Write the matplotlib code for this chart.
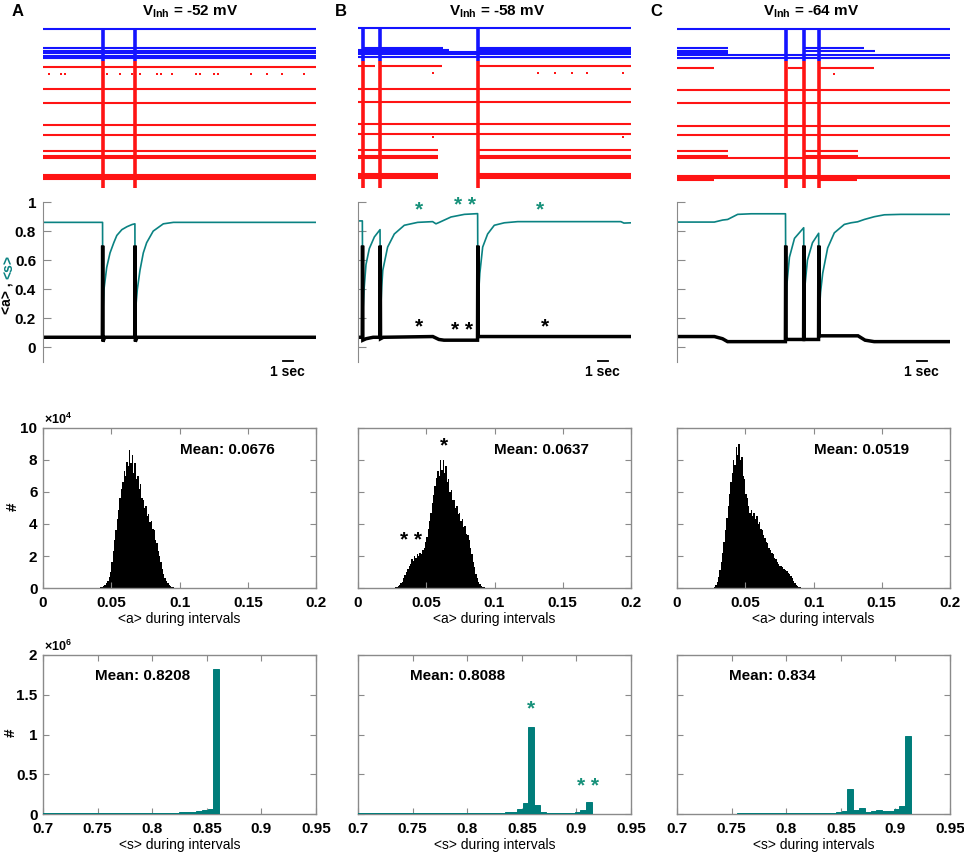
import numpy as np
import matplotlib
matplotlib.use("Agg")
import matplotlib.pyplot as plt

plt.rcParams['font.family'] = 'Liberation Sans'
plt.rcParams['font.weight'] = 'bold'
plt.rcParams['font.size'] = 11
plt.rcParams['mathtext.fontset'] = 'custom'
plt.rcParams['mathtext.rm'] = 'Liberation Sans'
plt.rcParams['mathtext.bf'] = 'Liberation Sans:bold'

RED = '#ff1414'
BLUE = '#1414ff'
TEAL = '#0a8282'
STAR = '#17917a'
BARC = '#007d7a'
GRAY = '#8a8a8a'

T_MAX = 27
letters = ['A', 'B', 'C']
v_inh = ['-52 mV', '-58 mV', '-64 mV']
means_a = ['0.0676', '0.0637', '0.0519']
means_s = ['0.8208', '0.8088', '0.834']

# ---- raster (neuron id, active periods in sec) ----
FULL = [(0, T_MAX)]
inh_span = (3, 36)
exc_span = (36, 163)
burst_times = [[5.9, 9.1], [0.45, 2.2, 11.85], [10.75, 12.55, 14.03]]

inh_A = {4: FULL, 23: FULL, 26: FULL, 28: FULL, 31: FULL, 33: FULL}
exc_A = {42: FULL, 64: FULL, 78: FULL, 100: FULL, 110: FULL, 126: FULL,
         131: FULL, 133: FULL, 150: FULL, 152: FULL, 154: FULL}
dots_A = {49: [0.59, 1.78, 2.18, 6.33, 7.62, 8.80, 9.59, 11.28, 11.67, 12.76,
               15.13, 15.53, 16.91, 17.31, 20.57, 22.16, 23.64, 25.82]}

inh_B = {3: FULL, 23: [(0.6, 8.4), (12.0, T_MAX)], 25: [(0, 9.0), (12.0, T_MAX)],
         27: FULL, 29: FULL, 32: FULL}
exc_B = {41: [(0, 1.7), (2.1, 8.3), (12.0, T_MAX)], 64: FULL, 77: FULL, 99: FULL, 109: FULL,
         125: [(0, 7.9), (12.0, T_MAX)], 131: [(0, 7.9), (12.0, T_MAX)],
         133: [(0, 7.9), (12.0, T_MAX)], 149: [(0, 7.9), (12.0, T_MAX)],
         151: [(0, 7.9), (12.0, T_MAX)], 153: [(0, 7.9), (12.0, T_MAX)]}
dots_B = {48: [7.4, 17.8, 19.5, 21.2, 22.6, 26.2], 112: [7.4, 26.2]}

inh_C = {4: FULL, 23: [(0, 5.0), (12.55, 18.5)], 26: [(0, 5.0), (12.55, 19.6)],
         28: [(0, 5.0)], 30: FULL, 33: FULL}
exc_C = {43: [(0, 3.7), (10.95, 12.55), (14.05, 19.5)], 65: FULL, 78: FULL, 101: FULL, 110: FULL,
         126: [(0, 5.0), (12.55, 17.9)], 131: [(0, 5.0), (12.55, 17.9)], 133: FULL,
         151: FULL, 153: FULL, 155: [(0, 3.7), (14.05, 17.8)]}
dots_C = {49: [15.5]}

inh_rows = [inh_A, inh_B, inh_C]
exc_rows = [exc_A, exc_B, exc_C]
dot_rows = [dots_A, dots_B, dots_C]

# ---- population traces <s> (teal) and <a> (black) ----
s_t = [
    [0, 5.89, 5.91, 6.03, 6.3, 6.63, 7.0, 7.3, 7.8, 8.3, 8.8, 9.09, 9.11, 9.33, 9.59,
     9.92, 10.25, 10.9, 11.9, 12.9, 27],
    [0, 0.43, 0.47, 0.6, 0.79, 1.12, 1.62, 2.18, 2.22, 2.35, 2.45, 2.93, 3.59, 4.58, 5.9,
     7.38, 7.71, 8.04, 9.2, 10.52, 11.83, 11.87, 11.97, 12.05, 12.33, 12.82, 13.48, 14.47,
     15.79, 26.0, 26.3, 27],
    [0, 3.69, 4.52, 5.01, 6.0, 7.32, 10.73, 10.77, 10.85, 11.12, 11.62, 12.53, 12.57, 12.65,
     12.9, 13.4, 14.01, 14.05, 14.2, 14.41, 14.9, 15.56, 16.55, 17.21, 17.87, 18.53, 19.52,
     20.51, 22.15, 27],
]
s_v = [
    [0.86, 0.86, 0.22, 0.40, 0.55, 0.65, 0.72, 0.77, 0.81, 0.83, 0.845, 0.85, 0.22, 0.40, 0.53,
     0.65, 0.72, 0.80, 0.85, 0.86, 0.86],
    [0.87, 0.87, 0.22, 0.40, 0.57, 0.68, 0.76, 0.81, 0.22, 0.42, 0.53, 0.69, 0.78, 0.84, 0.86,
     0.865, 0.85, 0.86, 0.897, 0.915, 0.92, 0.22, 0.42, 0.51, 0.69, 0.78, 0.84, 0.857,
     0.865, 0.865, 0.855, 0.857],
    [0.862, 0.862, 0.876, 0.88, 0.915, 0.919, 0.919, 0.22, 0.42, 0.62, 0.75, 0.823, 0.22, 0.42,
     0.60, 0.72, 0.785, 0.22, 0.38, 0.51, 0.684, 0.788, 0.846, 0.857, 0.864, 0.88, 0.899,
     0.912, 0.915, 0.915],
]
a_t = [
    [0, 5.87, 5.9, 5.93, 6.1, 9.07, 9.1, 9.13, 9.3, 27],
    [0, 0.42, 0.45, 0.48, 0.8, 1.5, 2.17, 2.2, 2.23, 2.5, 7.4, 7.7, 8.0, 8.5, 11.82, 11.85,
     11.88, 27],
    [0, 3.7, 4.5, 5.0, 10.72, 10.75, 10.78, 12.52, 12.55, 12.58, 14.0, 14.03, 14.06, 17.9,
     18.6, 19.5, 27],
]
a_v = [
    [0.07, 0.07, 0.70, 0.04, 0.07, 0.07, 0.70, 0.04, 0.07, 0.07],
    [0.07, 0.07, 0.70, 0.05, 0.06, 0.07, 0.07, 0.70, 0.06, 0.07, 0.075, 0.065, 0.055, 0.05,
     0.05, 0.70, 0.075, 0.075],
    [0.075, 0.075, 0.06, 0.04, 0.04, 0.70, 0.055, 0.055, 0.70, 0.055, 0.055, 0.70, 0.08,
     0.08, 0.05, 0.04, 0.04],
]

# ---- histograms of <a> (counts x 1e4, bin 0.001) ----
a_bin = 0.001
a_start = [0.040, 0.025, 0.025]
a_counts = [
    [0.01, 0.02, 0.04, 0.07, 0.12, 0.2, 0.3, 0.45, 0.7, 1.0,
     1.6, 2.3, 3.0, 3.6, 4.3, 4.9, 5.6, 6.2, 6.6, 7.3,
     7.0, 7.9, 7.6, 8.6, 7.8, 8.3, 7.2, 7.8, 6.8, 7.0,
     6.2, 6.5, 5.6, 5.5, 5.0, 5.1, 4.5, 4.6, 4.1, 4.2,
     3.7, 3.6, 3.0, 2.8, 2.3, 2.0, 1.6, 1.2, 0.9, 0.65,
     0.45, 0.3, 0.2, 0.12, 0.08, 0.05, 0.03, 0.02, 0.01, 0.01],
    [0.01, 0.02, 0.04, 0.08, 0.13, 0.2, 0.3, 0.4, 0.6, 0.8,
     1.0, 1.2, 1.4, 1.5, 1.8, 1.7, 2.0, 1.9, 2.1, 2.0,
     2.2, 2.1, 2.4, 2.5, 2.9, 3.2, 3.7, 4.2, 4.7, 5.3,
     5.8, 6.4, 6.9, 7.3, 7.0, 8.0, 7.4, 8.0, 7.2, 7.6,
     6.6, 6.8, 6.0, 6.1, 5.5, 5.5, 5.0, 5.1, 4.6, 4.7,
     4.2, 4.3, 3.8, 3.9, 3.4, 3.3, 3.0, 2.5, 2.1, 1.6,
     1.3, 0.9, 0.6, 0.4, 0.25, 0.15, 0.09, 0.05, 0.03, 0.02, 0.01],
    [0.01, 0.03, 0.08, 0.2, 0.4, 0.7, 1.1, 1.6, 2.2, 2.9,
     3.6, 4.4, 5.1, 5.9, 6.6, 7.2, 8.0, 7.7, 8.8, 8.3,
     9.0, 8.0, 8.2, 7.0, 6.8, 5.9, 5.6, 5.1, 4.7, 4.9,
     4.5, 4.7, 4.3, 4.5, 4.0, 4.1, 3.7, 3.6, 3.3, 3.1,
     2.9, 2.8, 2.5, 2.4, 2.2, 2.1, 1.9, 1.8, 1.6, 1.5,
     1.4, 1.35, 1.3, 1.2, 1.1, 1.05, 0.95, 0.85, 0.75, 0.6,
     0.45, 0.3, 0.2, 0.12, 0.08, 0.05, 0.03, 0.02, 0.01],
]

# ---- histograms of <s> (counts x 1e6) ----
s_bin0 = 0.697
s_bin = 0.0053
s_counts = [
    [0.008, 0.008, 0.008, 0.008, 0.008, 0.008, 0.008, 0.008, 0.008, 0.008, 0.008, 0.008,
     0.008, 0.008, 0.008, 0.009, 0.010, 0.011, 0.011, 0.012, 0.013, 0.014, 0.016, 0.018,
     0.021, 0.025, 0.030, 0.036, 0.045, 0.062, 1.82, 0, 0, 0, 0, 0, 0, 0, 0, 0, 0],
    [0.007, 0.007, 0.007, 0.007, 0.007, 0.007, 0.007, 0.007, 0.007, 0.007, 0.007, 0.007,
     0.007, 0.007, 0.007, 0.008, 0.008, 0.009, 0.009, 0.008, 0.008, 0.009, 0.010, 0.011,
     0.012, 0.015, 0.02, 0.03, 0.067, 0.14, 1.10, 0.11, 0.03, 0.011, 0.012, 0.012, 0.012,
     0.013, 0.025, 0.045, 0.15],
    [0.006, 0.006, 0.006, 0.006, 0.006, 0.006, 0.006, 0.006, 0.006, 0.006, 0.006, 0.010,
     0.010, 0.010, 0.010, 0.010, 0.010, 0.007, 0.007, 0.007, 0.007, 0.007, 0.007, 0.007,
     0.007, 0.008, 0.01, 0.015, 0.02, 0.04, 0.31, 0.05, 0.075, 0.03, 0.035, 0.05, 0.035,
     0.04, 0.063, 0.10, 0.975],
]

W, H = 964, 859
fig = plt.figure(figsize=(W / 100, H / 100), dpi=100)


def axes_px(x0, y0, x1, y1):
    return fig.add_axes([x0 / W, 1 - y1 / H, (x1 - x0) / W, (y1 - y0) / H])


def box_style(ax):
    for sp in ax.spines.values():
        sp.set_color(GRAY)
        sp.set_linewidth(1)
    ax.tick_params(direction='in', length=4, color=GRAY, top=True, right=True, labelsize=11)
    ax.tick_params(axis='x', pad=6)
    ax.tick_params(axis='y', pad=4)


col_left = [43, 358, 677]
col_w = 273
title_x = [190, 497, 811]
letter_x = [12, 335, 650]

for i in range(3):
    x0 = col_left[i]
    fig.text(letter_x[i] / W, 1 - 12 / H, letters[i], fontsize=12, ha='left', va='center')
    fig.text(title_x[i] / W, 1 - 12 / H, r'$\mathbf{V}_{\mathbf{Inh}}$ = ' + v_inh[i],
             fontsize=11, ha='center', va='center')

    # raster
    ax = axes_px(x0, 25, x0 + col_w, 190)
    ax.set_xlim(0, T_MAX)
    ax.set_ylim(165, 0)
    ax.axis('off')
    for rows, c in [(inh_rows[i], BLUE), (exc_rows[i], RED)]:
        for nid, segs in rows.items():
            for t0, t1 in segs:
                ax.plot([t0, t1], [nid, nid], color=c, lw=1.5, solid_capstyle='butt')
    for nid, ts in dot_rows[i].items():
        ax.plot(ts, [nid] * len(ts), 's', color=RED, ms=2, mew=0)
    for bt in burst_times[i]:
        ax.plot([bt, bt], inh_span, color=BLUE, lw=2.6, solid_capstyle='butt')
        ax.plot([bt, bt], exc_span, color=RED, lw=2.6, solid_capstyle='butt')

    # time course
    ax = axes_px(x0, 202, x0 + col_w, 362)
    ax.set_xlim(0, T_MAX)
    ax.set_ylim(-0.1, 1.0)
    for s in ['top', 'right', 'bottom']:
        ax.spines[s].set_visible(False)
    ax.spines['left'].set_color(GRAY)
    ax.set_xticks([])
    ax.set_yticks([0, 0.2, 0.4, 0.6, 0.8, 1])
    ax.tick_params(axis='y', direction='in', length=6, color=GRAY, pad=5, labelsize=11)
    if i == 0:
        ax.set_yticklabels(['0', '0.2', '0.4', '0.6', '0.8', '1'])
    else:
        ax.set_yticklabels([])
    ax.plot(s_t[i], s_v[i], color=TEAL, lw=1.2)
    ax.plot(a_t[i], a_v[i], color='k', lw=2.5, solid_capstyle='butt', solid_joinstyle='miter')
    ax.plot([23.7, 24.7], [-0.09, -0.09], color='k', lw=1.3, clip_on=False)
    ax.text(24.2, -0.168, '1 sec', ha='center', va='center', fontsize=10, clip_on=False)
    if i == 1:
        ax.text(6.03, 0.947, '*', color=STAR, fontsize=15, ha='center', va='center')
        ax.text(10.55, 0.977, '* *', color=STAR, fontsize=15, ha='center', va='center')
        ax.text(18.0, 0.947, '*', color=STAR, fontsize=15, ha='center', va='center')
        ax.text(6.03, 0.142, '*', color='k', fontsize=15, ha='center', va='center')
        ax.text(10.3, 0.12, '* *', color='k', fontsize=15, ha='center', va='center')
        ax.text(18.5, 0.142, '*', color='k', fontsize=15, ha='center', va='center')

    # histogram of <a>
    ax = axes_px(x0, 428, x0 + col_w, 588)
    edges = a_start[i] + a_bin * np.arange(len(a_counts[i]) + 1)
    ax.stairs(a_counts[i], edges, fill=True, color='k')
    ax.set_xlim(0, 0.2)
    ax.set_ylim(0, 10)
    box_style(ax)
    ax.set_xticks([0, 0.05, 0.1, 0.15, 0.2])
    ax.set_xticklabels(['0', '0.05', '0.1', '0.15', '0.2'])
    ax.set_yticks([0, 2, 4, 6, 8, 10])
    if i == 0:
        ax.set_yticklabels(['0', '2', '4', '6', '8', '10'])
        ax.text(0.005, 1.005, r'$\times10^{4}$', transform=ax.transAxes, fontsize=9,
                ha='left', va='bottom')
    else:
        ax.set_yticklabels([])
    ax.set_xlabel('<a> during intervals', fontsize=10, labelpad=1)
    ax.text(0.1, 8.6, 'Mean: ' + means_a[i], fontsize=11, ha='left', va='center')
    if i == 1:
        ax.text(0.0633, 8.9, '*', fontsize=15, ha='center', va='center')
        ax.text(0.039, 3.0, '* *', fontsize=15, ha='center', va='center')

    # histogram of <s>
    ax = axes_px(x0, 655, x0 + col_w, 814)
    lefts = s_bin0 + s_bin * np.arange(len(s_counts[i]))
    ax.bar(lefts, s_counts[i], width=s_bin, align='edge', color=BARC, edgecolor=BARC,
           lw=0.7, zorder=3)
    ax.set_xlim(0.7, 0.95)
    ax.set_ylim(0, 2)
    box_style(ax)
    ax.set_xticks([0.7, 0.75, 0.8, 0.85, 0.9, 0.95])
    ax.set_xticklabels(['0.7', '0.75', '0.8', '0.85', '0.9', '0.95'])
    ax.set_yticks([0, 0.5, 1, 1.5, 2])
    if i == 0:
        ax.set_yticklabels(['0', '0.5', '1', '1.5', '2'])
        ax.text(0.005, 1.005, r'$\times10^{6}$', transform=ax.transAxes, fontsize=9,
                ha='left', va='bottom')
    else:
        ax.set_yticklabels([])
    ax.set_xlabel('<s> during intervals', fontsize=10, labelpad=1)
    ax.text(0.748, 1.74, 'Mean: ' + means_s[i], fontsize=11, ha='left', va='center')
    if i == 1:
        ax.text(0.858, 1.32, '*', color=STAR, fontsize=15, ha='center', va='center')
        ax.text(0.911, 0.34, '* *', color=STAR, fontsize=15, ha='center', va='center')

# y labels
fig.text(8 / W, 1 - 314 / H, '<a> ,', rotation=90, ha='center', va='bottom', fontsize=10)
fig.text(8 / W, 1 - 279 / H, '<s>', rotation=90, ha='center', va='bottom', fontsize=10,
         color=TEAL)
fig.text(13 / W, 1 - 507 / H, '#', rotation=90, ha='center', va='center', fontsize=11)
fig.text(11 / W, 1 - 733 / H, '#', rotation=90, ha='center', va='center', fontsize=11)

fig.savefig('out.png', dpi=100)
